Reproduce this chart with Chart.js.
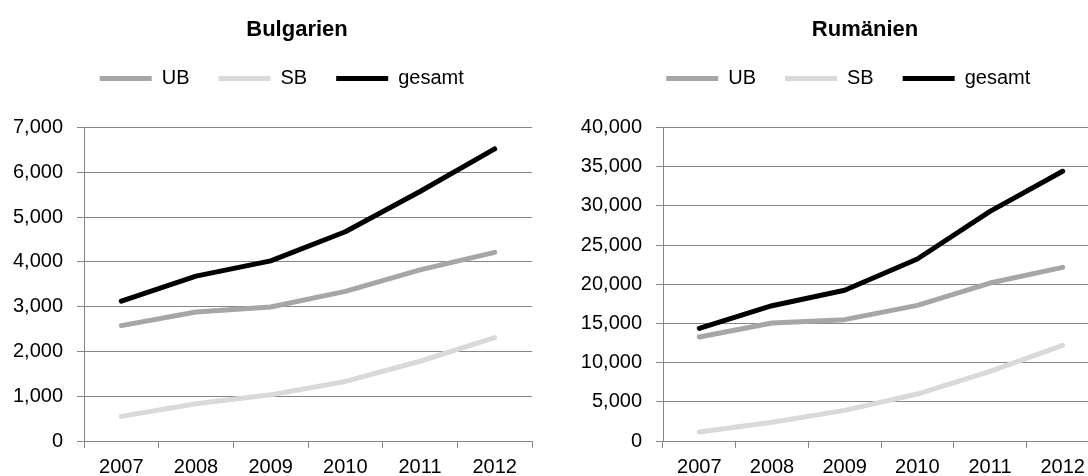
<!DOCTYPE html>
<html>
<head>
<meta charset="utf-8">
<title>Bulgarien / Rumänien</title>
<script src="https://cdn.jsdelivr.net/npm/chart.js@4.4.1/dist/chart.umd.min.js"></script>
<style>
    body { margin: 0; background: #fff; overflow: hidden; }
    #wrap { position: relative; width: 1088px; height: 476px; overflow: hidden; }
    #wrap canvas { position: absolute; top: 0; }
</style>
</head>
<body>
<div id="wrap">
    <canvas id="bulgarien" width="544" height="476" style="left:0"></canvas>
    <canvas id="rumaenien" width="560" height="476" style="left:544px"></canvas>
</div>
<script>
const years = ['2007', '2008', '2009', '2010', '2011', '2012'];
const seriesNames = ['UB', 'SB', 'gesamt'];
const seriesColors = ['#A6A6A6', '#D9D9D9', '#000000'];

const bulgarienUB = [2575, 2880, 2990, 3340, 3820, 4210];
const bulgarienSB = [550, 830, 1030, 1330, 1780, 2310];
const bulgarienGesamt = [3120, 3680, 4020, 4670, 5570, 6520];
const bulgarienTicks = [0, 1000, 2000, 3000, 4000, 5000, 6000, 7000];

const rumaenienUB = [13270, 15050, 15480, 17300, 20150, 22150];
const rumaenienSB = [1150, 2380, 3910, 5990, 8890, 12200];
const rumaenienGesamt = [14370, 17260, 19220, 23210, 29290, 34400];
const rumaenienTicks = [0, 5000, 10000, 15000, 20000, 25000, 30000, 35000, 40000];

const gridColor = '#868686';

Chart.defaults.font.family = '"Liberation Sans", Arial, sans-serif';
Chart.defaults.color = '#000';

// more room under the legend, and move title/legend off the plot centre
const boxTweaks = (titleDx, legendDx) => ({
    id: 'boxTweaks',
    beforeInit(chart) {
        const fit = chart.legend.fit;
        chart.legend.fit = function () {
            fit.call(this);
            this.height += 29;
        };
    },
    afterLayout(chart) {
        chart.titleBlock.left += titleDx;
        chart.titleBlock.right += titleDx;
        chart.legend.left += legendDx;
        chart.legend.right += legendDx;
    }
});

function makeChart(id, title, ub, sb, gesamt, ticks, axisWidth, padRight, titleDx, legendDx) {
    const values = [ub, sb, gesamt];
    const ctx = document.getElementById(id).getContext('2d');
    return new Chart(ctx, {
        type: 'line',
        data: {
            labels: years,
            datasets: seriesNames.map((name, i) => ({
                label: name,
                data: values[i],
                borderColor: seriesColors[i],
                backgroundColor: seriesColors[i],
                borderWidth: 5,
                borderCapStyle: 'round',
                borderJoinStyle: 'round',
                pointRadius: 0,
                pointStyle: 'line',
                tension: 0
            }))
        },
        options: {
            responsive: false,
            animation: false,
            layout: { padding: { left: 0, right: padRight, top: 0, bottom: 0 } },
            plugins: {
                title: {
                    display: true,
                    text: title,
                    font: { size: 22, weight: 'bold' },
                    padding: { top: 17, bottom: -4 }
                },
                legend: {
                    position: 'top',
                    labels: {
                        usePointStyle: true,
                        pointStyleWidth: 52,
                        padding: 29,
                        font: { size: 20 }
                    }
                },
                tooltip: { enabled: false }
            },
            scales: {
                x: {
                    offset: true,
                    grid: { offset: true, drawOnChartArea: false, tickLength: 7, color: gridColor },
                    border: { color: gridColor },
                    ticks: { font: { size: 20 }, padding: 7, maxRotation: 0, autoSkip: false },
                    afterFit: (scale) => { scale.height = 35; }
                },
                y: {
                    min: ticks[0],
                    max: ticks[ticks.length - 1],
                    afterBuildTicks: (scale) => { scale.ticks = ticks.map(v => ({ value: v })); },
                    grid: { color: gridColor, tickLength: 7 },
                    border: { color: gridColor },
                    ticks: {
                        font: { size: 20 },
                        padding: 14,
                        callback: (v) => v.toLocaleString('en-US')
                    },
                    afterFit: (scale) => { scale.width = axisWidth; }
                }
            }
        },
        plugins: [boxTweaks(titleDx, legendDx)]
    });
}

makeChart('bulgarien', 'Bulgarien', bulgarienUB, bulgarienSB, bulgarienGesamt, bulgarienTicks, 84, 12, 31, 15.75);
makeChart('rumaenien', 'Rumänien', rumaenienUB, rumaenienSB, rumaenienGesamt, rumaenienTicks, 119, 5, 43.5, 26.75);
</script>
</body>
</html>
